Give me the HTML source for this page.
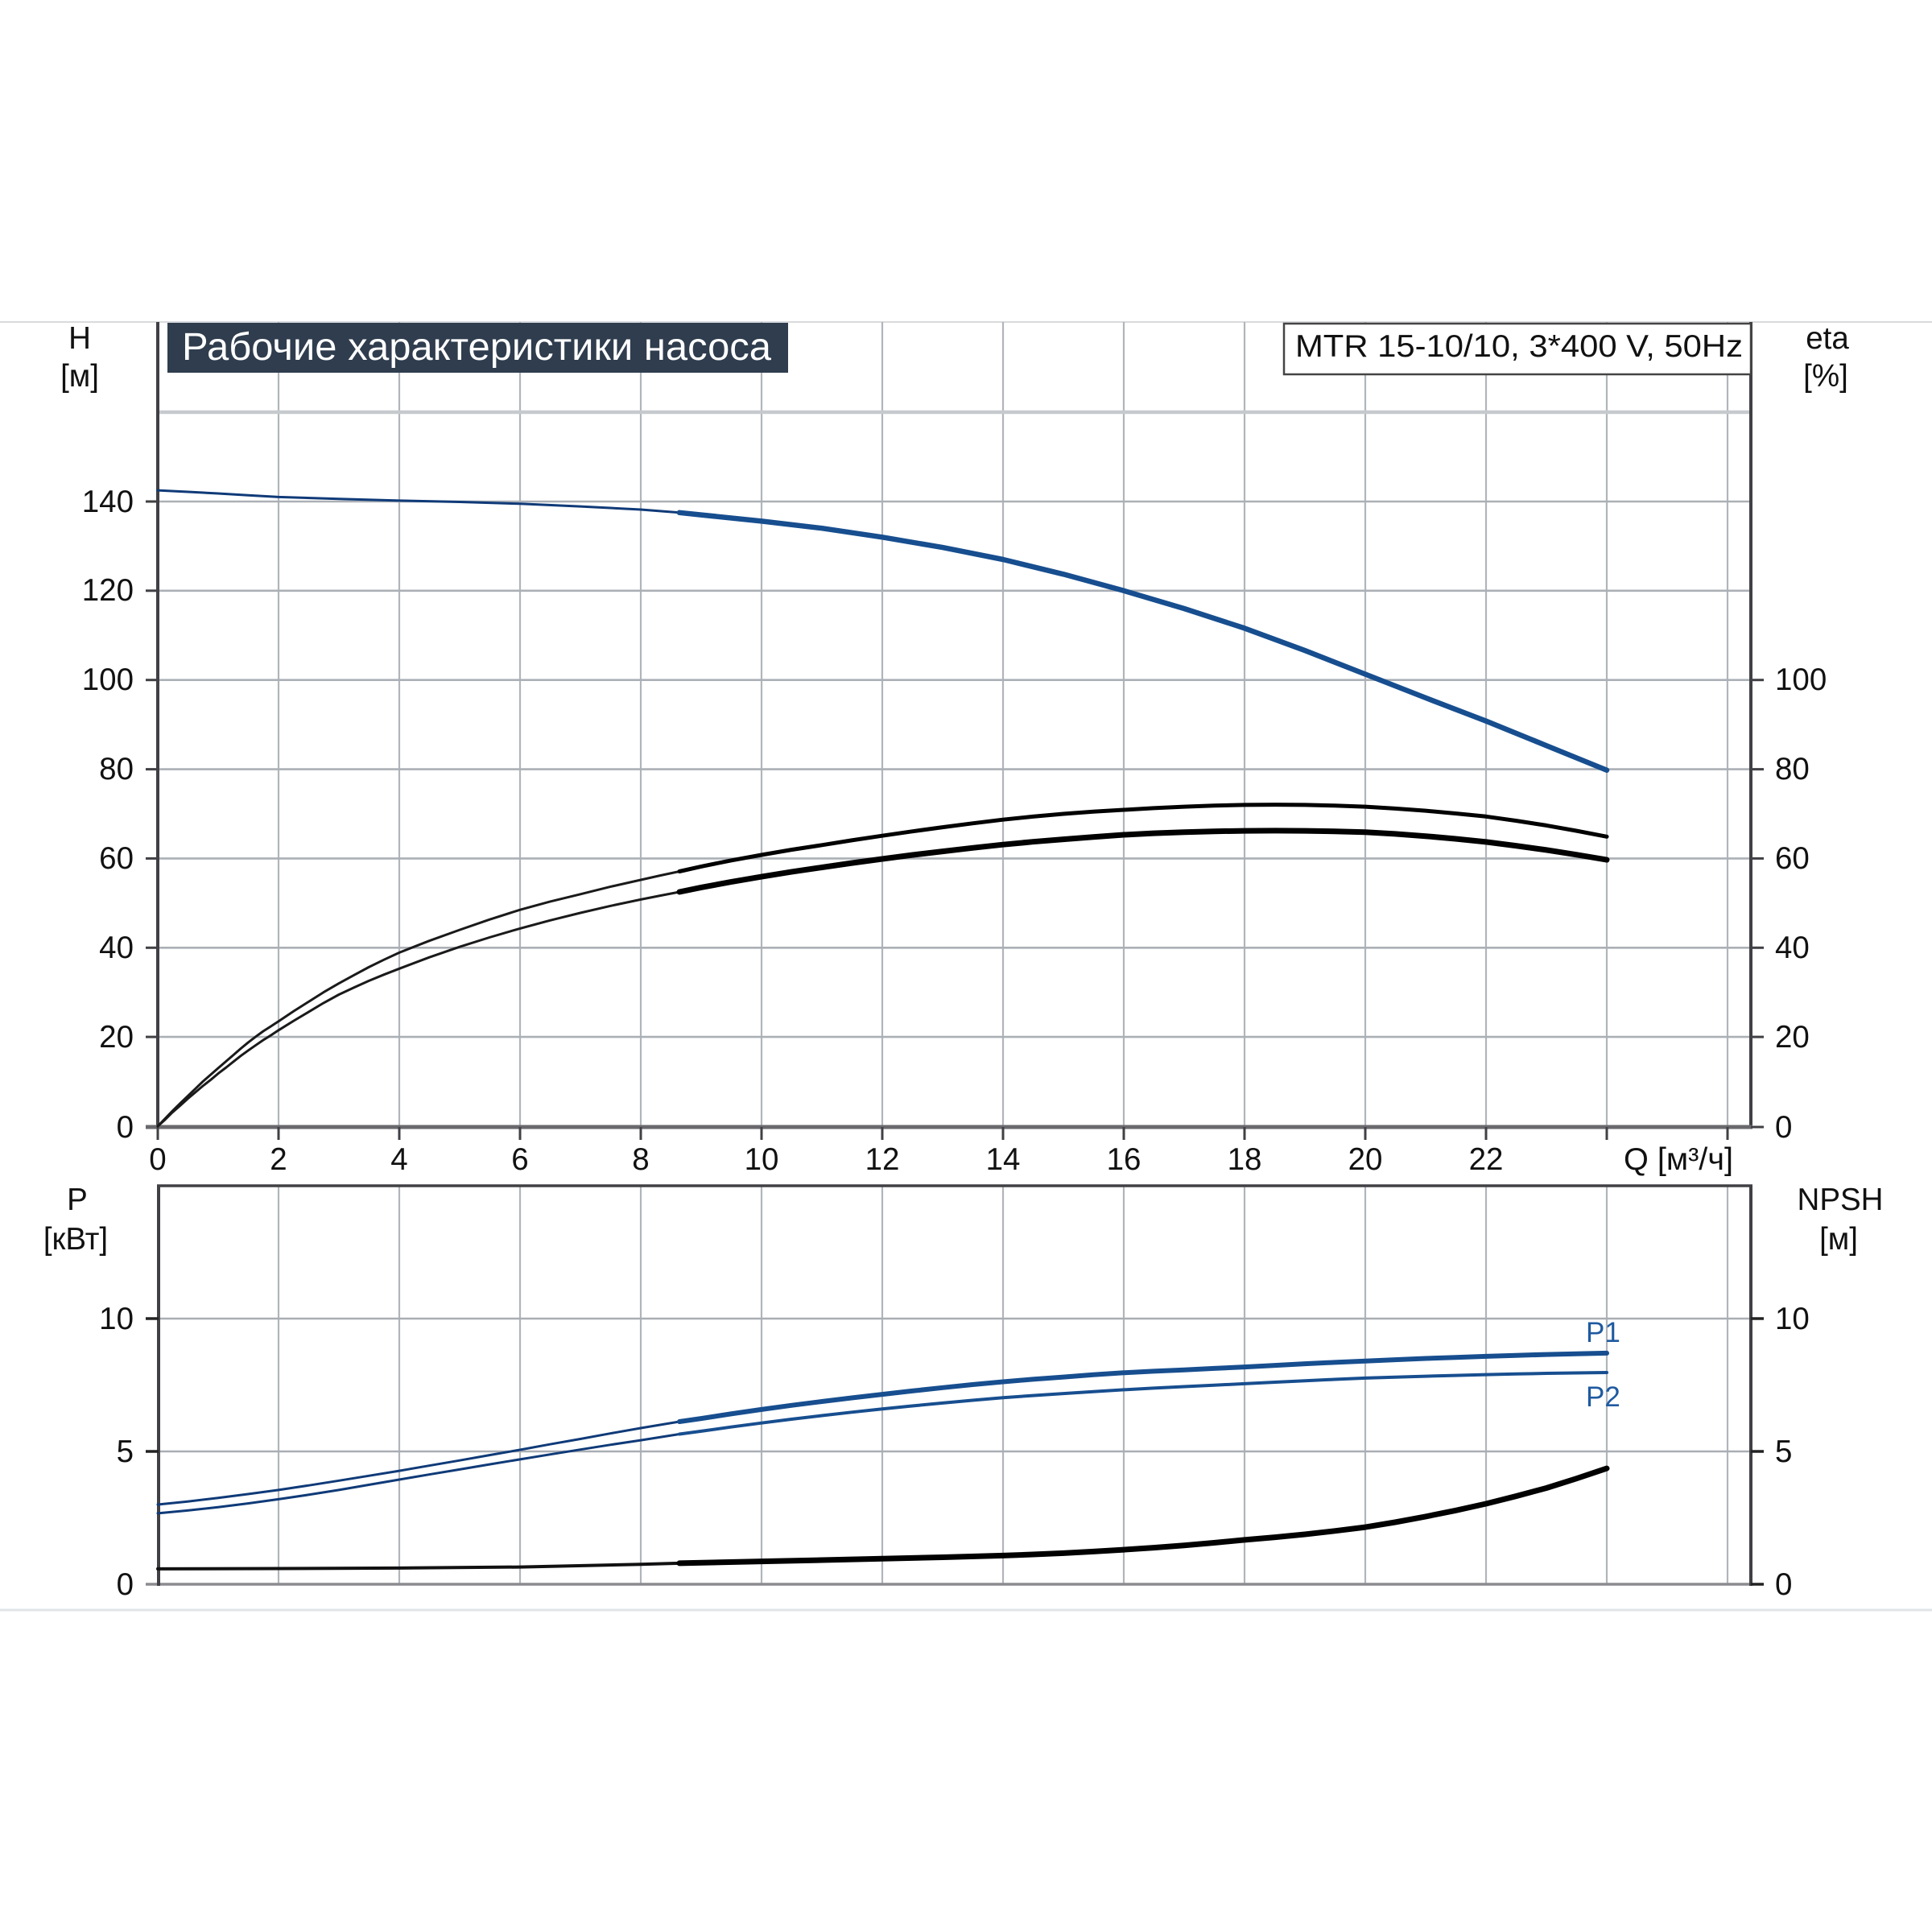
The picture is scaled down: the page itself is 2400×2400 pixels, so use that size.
<!DOCTYPE html>
<html><head><meta charset="utf-8"><style>
html,body{margin:0;padding:0;background:#fff;}
svg{display:block;}
text{font-family:"Liberation Sans","DejaVu Sans",sans-serif;}
</style></head><body>
<svg width="2400" height="2400" viewBox="0 0 2400 2400" xmlns="http://www.w3.org/2000/svg">
<rect x="0" y="0" width="2400" height="2400" fill="#fff"/>
<line x1="0" y1="400" x2="2400" y2="400" stroke="#d8dadd" stroke-width="2"/>
<line x1="0" y1="2000" x2="2400" y2="2000" stroke="#e2e5e8" stroke-width="3"/>

<g stroke="#b0b5bb" stroke-width="2.2">
<line x1="346" y1="400" x2="346" y2="1400"/><line x1="496" y1="400" x2="496" y2="1400"/>
<line x1="646" y1="400" x2="646" y2="1400"/><line x1="796" y1="400" x2="796" y2="1400"/>
<line x1="946" y1="400" x2="946" y2="1400"/><line x1="1096" y1="400" x2="1096" y2="1400"/>
<line x1="1246" y1="400" x2="1246" y2="1400"/><line x1="1396" y1="400" x2="1396" y2="1400"/>
<line x1="1546" y1="400" x2="1546" y2="1400"/><line x1="1696" y1="400" x2="1696" y2="1400"/>
<line x1="1846" y1="400" x2="1846" y2="1400"/><line x1="1996" y1="400" x2="1996" y2="1400"/>
<line x1="2146" y1="400" x2="2146" y2="1400"/>
</g>
<g stroke="#abb0b6" stroke-width="2.6">
<line x1="196" y1="1288.1" x2="2175" y2="1288.1"/>
<line x1="196" y1="1177.3" x2="2175" y2="1177.3"/>
<line x1="196" y1="1066.4" x2="2175" y2="1066.4"/>
<line x1="196" y1="955.6" x2="2175" y2="955.6"/>
<line x1="196" y1="844.7" x2="2175" y2="844.7"/>
<line x1="196" y1="733.8" x2="2175" y2="733.8"/>
<line x1="196" y1="623" x2="2175" y2="623"/>
</g>
<line x1="196" y1="512" x2="2175" y2="512" stroke="#c6c9cd" stroke-width="4.5"/>

<line x1="196" y1="400" x2="196" y2="1402" stroke="#404045" stroke-width="4"/>
<line x1="2175" y1="400" x2="2175" y2="1402" stroke="#404045" stroke-width="4"/>
<line x1="181" y1="1400" x2="2177" y2="1400" stroke="#6a6a6e" stroke-width="5"/>
<g stroke="#404045" stroke-width="3">
<line x1="181" y1="1288.1" x2="196" y2="1288.1"/><line x1="181" y1="1177.3" x2="196" y2="1177.3"/>
<line x1="181" y1="1066.4" x2="196" y2="1066.4"/><line x1="181" y1="955.6" x2="196" y2="955.6"/>
<line x1="181" y1="844.7" x2="196" y2="844.7"/><line x1="181" y1="733.8" x2="196" y2="733.8"/>
<line x1="181" y1="623" x2="196" y2="623"/>
<line x1="2175" y1="1400" x2="2191" y2="1400"/><line x1="2175" y1="1288.1" x2="2191" y2="1288.1"/>
<line x1="2175" y1="1177.3" x2="2191" y2="1177.3"/><line x1="2175" y1="1066.4" x2="2191" y2="1066.4"/>
<line x1="2175" y1="955.6" x2="2191" y2="955.6"/><line x1="2175" y1="844.7" x2="2191" y2="844.7"/>
<line x1="196" y1="1400" x2="196" y2="1416"/><line x1="346" y1="1400" x2="346" y2="1416"/>
<line x1="496" y1="1400" x2="496" y2="1416"/><line x1="646" y1="1400" x2="646" y2="1416"/>
<line x1="796" y1="1400" x2="796" y2="1416"/><line x1="946" y1="1400" x2="946" y2="1416"/>
<line x1="1096" y1="1400" x2="1096" y2="1416"/><line x1="1246" y1="1400" x2="1246" y2="1416"/>
<line x1="1396" y1="1400" x2="1396" y2="1416"/><line x1="1546" y1="1400" x2="1546" y2="1416"/>
<line x1="1696" y1="1400" x2="1696" y2="1416"/><line x1="1846" y1="1400" x2="1846" y2="1416"/>
<line x1="1996" y1="1400" x2="1996" y2="1416"/><line x1="2146" y1="1400" x2="2146" y2="1416"/>
</g>

<rect x="208" y="401" width="771" height="62" fill="#2f3d4e"/>
<text x="226" y="447" font-size="48" fill="#ffffff" textLength="732" lengthAdjust="spacingAndGlyphs">Рабочие характеристики насоса</text>
<rect x="1595" y="402" width="580" height="63" fill="#ffffff" stroke="#444" stroke-width="2.5"/>
<text x="1609" y="443" font-size="39" fill="#111" textLength="556" lengthAdjust="spacingAndGlyphs">MTR 15-10/10, 3*400 V, 50Hz</text>

<g font-size="38.5" fill="#111" text-anchor="end">
<text x="166" y="1413">0</text><text x="166" y="1301">20</text><text x="166" y="1190">40</text>
<text x="166" y="1079">60</text><text x="166" y="968">80</text><text x="166" y="857">100</text>
<text x="166" y="746">120</text><text x="166" y="636">140</text>
</g>
<g font-size="38.5" fill="#111" text-anchor="start">
<text x="2205" y="1413">0</text><text x="2205" y="1301">20</text><text x="2205" y="1190">40</text>
<text x="2205" y="1079">60</text><text x="2205" y="968">80</text><text x="2205" y="857">100</text>
</g>
<g font-size="38.5" fill="#111" text-anchor="middle">
<text x="196" y="1453">0</text><text x="346" y="1453">2</text><text x="496" y="1453">4</text>
<text x="646" y="1453">6</text><text x="796" y="1453">8</text><text x="946" y="1453">10</text>
<text x="1096" y="1453">12</text><text x="1246" y="1453">14</text><text x="1396" y="1453">16</text>
<text x="1546" y="1453">18</text><text x="1696" y="1453">20</text><text x="1846" y="1453">22</text>
<text x="99" y="433">H</text><text x="99" y="480">[м]</text>
<text x="2270" y="433">eta</text><text x="2268" y="480">[%]</text>
<text x="96" y="1503">P</text><text x="94" y="1552">[кВт]</text>
<text x="2286" y="1503">NPSH</text><text x="2284" y="1552">[м]</text>
</g>
<text x="2017" y="1453" font-size="38.5" fill="#111" textLength="136" lengthAdjust="spacingAndGlyphs">Q [м³/ч]</text>

<g fill="none" stroke-linejoin="round" stroke-linecap="round">
<polyline stroke="#0f3a78" stroke-width="3" points="196,609.1 233.5,611 271,613 308.5,615.2 346,617.4 421,619.7 496,621.9 571,623.5 646,625.8 721,629.1 796,633 844,636.8"/>
<polyline stroke="#174e8f" stroke-width="6.5" points="844,636.8 871,639.6 946,647.4 1021,656.2 1096,667.3 1171,680.1 1246,695 1321,713.3 1396,733.8 1471,756 1546,780.4 1621,808.1 1696,837.5 1771,866.9 1846,895.7 1921,926.2 1996,956.7"/>
<polyline stroke="#1a1a1a" stroke-width="3" points="196,1399 205,1389.6 214,1380.3 224,1370.4 233.5,1361.3 243,1352.2 252,1343.5 262,1334.8 271,1326.9 281,1318.3 290,1310.5 299,1302.6 308.5,1294.8 318,1287.6 327,1281 337,1274.6 346,1268.7 365,1256 384,1244 402,1232.6 421,1221.6 440,1211.2 458,1201.5 477,1192.2 496,1183.4 533,1168.8 571,1155.1 608,1142.3 646,1130.2 683,1120.1 721,1110.8 758,1101.6 796,1093 820,1087.6 844,1082.5"/>
<polyline stroke="#000" stroke-width="5" points="844,1082.5 871,1076.4 908,1068.9 946,1062 983,1055.6 1021,1049.8 1058,1043.9 1096,1038.2 1133,1032.8 1171,1027.6 1208,1022.8 1246,1018.2 1283,1014.4 1321,1011 1358,1008.3 1396,1006 1433,1003.9 1471,1002.1 1508,1000.8 1546,999.9 1584,999.6 1621,999.9 1658,1000.8 1696,1002.1 1733,1004.4 1771,1007.1 1808,1010.5 1846,1014.3 1883,1019.5 1921,1025.4 1958,1032 1996,1039.3"/>
<polyline stroke="#1a1a1a" stroke-width="3" points="196,1399 205,1391 214,1382 224,1373.2 233.5,1364.6 243,1356.6 252,1349 262,1341.2 271,1333.6 281,1326 290,1318.8 299,1311.7 308.5,1304.8 318,1298.2 327,1292 337,1285.8 346,1279.8 365,1268 384,1256.7 402,1245.9 421,1235.5 440,1226.6 458,1218.5 477,1210.7 496,1203.3 533,1189.3 571,1176.2 608,1164.5 646,1153.4 683,1143.4 721,1134 758,1125.4 796,1117.4 820,1112.6 844,1108"/>
<polyline stroke="#000" stroke-width="7" points="844,1108 871,1102.4 908,1095.6 946,1089.1 983,1083.1 1021,1077.5 1058,1072.1 1096,1067 1133,1062.1 1171,1057.6 1208,1053.3 1246,1049.2 1283,1045.7 1321,1042.6 1358,1039.7 1396,1037 1433,1035.1 1471,1033.7 1508,1032.7 1546,1032.1 1584,1031.9 1621,1032.1 1658,1032.7 1696,1033.7 1733,1035.9 1771,1038.7 1808,1042 1846,1045.9 1883,1050.6 1921,1055.9 1958,1061.7 1996,1068.1"/>
</g>

<g stroke="#b0b5bb" stroke-width="2.2">
<line x1="346" y1="1473" x2="346" y2="1968"/><line x1="496" y1="1473" x2="496" y2="1968"/>
<line x1="646" y1="1473" x2="646" y2="1968"/><line x1="796" y1="1473" x2="796" y2="1968"/>
<line x1="946" y1="1473" x2="946" y2="1968"/><line x1="1096" y1="1473" x2="1096" y2="1968"/>
<line x1="1246" y1="1473" x2="1246" y2="1968"/><line x1="1396" y1="1473" x2="1396" y2="1968"/>
<line x1="1546" y1="1473" x2="1546" y2="1968"/><line x1="1696" y1="1473" x2="1696" y2="1968"/>
<line x1="1846" y1="1473" x2="1846" y2="1968"/><line x1="1996" y1="1473" x2="1996" y2="1968"/>
<line x1="2146" y1="1473" x2="2146" y2="1968"/>
</g>
<g stroke="#a9aeb4" stroke-width="2.6">
<line x1="197" y1="1803" x2="2175" y2="1803"/>
<line x1="197" y1="1638" x2="2175" y2="1638"/>
</g>
<line x1="181" y1="1968" x2="2177" y2="1968" stroke="#8c8c90" stroke-width="3.5"/>
<line x1="195" y1="1473" x2="2177" y2="1473" stroke="#404045" stroke-width="3.5"/>
<line x1="197" y1="1473" x2="197" y2="1970" stroke="#404045" stroke-width="4"/>
<line x1="2175" y1="1473" x2="2175" y2="1970" stroke="#404045" stroke-width="4"/>
<g stroke="#222" stroke-width="3.5">
<line x1="181" y1="1803" x2="197" y2="1803"/><line x1="181" y1="1638" x2="197" y2="1638"/>
<line x1="2175" y1="1968" x2="2191" y2="1968"/><line x1="2175" y1="1803" x2="2191" y2="1803"/>
<line x1="2175" y1="1638" x2="2191" y2="1638"/>
</g>
<g font-size="38.5" fill="#111" text-anchor="end">
<text x="166" y="1981">0</text><text x="166" y="1816">5</text><text x="166" y="1651">10</text>
</g>
<g font-size="38.5" fill="#111" text-anchor="start">
<text x="2205" y="1981">0</text><text x="2205" y="1816">5</text><text x="2205" y="1651">10</text>
</g>

<g fill="none" stroke-linejoin="round" stroke-linecap="round">
<polyline stroke="#0f3a78" stroke-width="3" points="196,1869 233,1865.2 271,1860.8 308,1856 346,1850.9 383,1845.3 421,1839.3 458,1833.3 496,1827.1 533,1820.7 571,1814.2 608,1807.6 646,1801 683,1794.2 721,1787.5 758,1780.7 796,1774 844,1766"/>
<polyline stroke="#174e8f" stroke-width="6" points="844,1766 871,1762.1 908,1756.4 946,1750.9 983,1745.8 1021,1741 1058,1736.5 1096,1732.1 1133,1727.9 1171,1723.8 1208,1720 1246,1716.5 1283,1713.4 1321,1710.6 1358,1707.8 1396,1705.3 1433,1703.4 1471,1701.7 1508,1699.9 1546,1698.1 1584,1696.1 1621,1694.1 1658,1692.4 1696,1690.8 1733,1689.1 1771,1687.5 1808,1686.2 1846,1684.9 1883,1683.7 1921,1682.6 1958,1681.7 1996,1680.9"/>
<polyline stroke="#0f3a78" stroke-width="3" points="196,1879.9 233,1876.4 271,1872.3 308,1867.6 346,1862.4 383,1856.9 421,1850.9 458,1844.5 496,1838 533,1831.7 571,1825.4 608,1819.1 646,1812.9 683,1806.8 721,1800.7 758,1794.8 796,1789.1 844,1781.5"/>
<polyline stroke="#174e8f" stroke-width="4" points="844,1781.5 871,1777.9 908,1772.7 946,1767.7 983,1763 1021,1758.5 1058,1754.3 1096,1750.2 1133,1746.5 1171,1742.9 1208,1739.5 1246,1736.3 1283,1733.6 1321,1731.1 1358,1728.7 1396,1726.4 1433,1724.4 1471,1722.5 1508,1720.7 1546,1718.9 1584,1717 1621,1715.2 1658,1713.5 1696,1711.9 1733,1710.7 1771,1709.6 1808,1708.6 1846,1707.6 1883,1706.8 1921,1706 1958,1705.5 1996,1705"/>
<polyline stroke="#111" stroke-width="4" points="196,1948.9 346,1948.5 496,1947.9 646,1946.6 796,1943.3 844,1941.9"/>
<polyline stroke="#000" stroke-width="7" points="844,1941.9 946,1939.6 1021,1938 1096,1936.3 1171,1934.5 1246,1932.4 1283,1931 1321,1929.4 1358,1927.4 1396,1925.1 1433,1922.6 1471,1919.8 1508,1916.5 1546,1912.9 1584,1909.6 1621,1906 1658,1901.8 1696,1897.1 1733,1891 1771,1883.9 1808,1876.4 1846,1868 1883,1858.7 1921,1848.5 1958,1836.8 1996,1824.1"/>
</g>
<text x="1970" y="1667" font-size="35" fill="#1f5aa0">P1</text>
<text x="1970" y="1747" font-size="35" fill="#1f5aa0">P2</text>
</svg>
</body></html>
